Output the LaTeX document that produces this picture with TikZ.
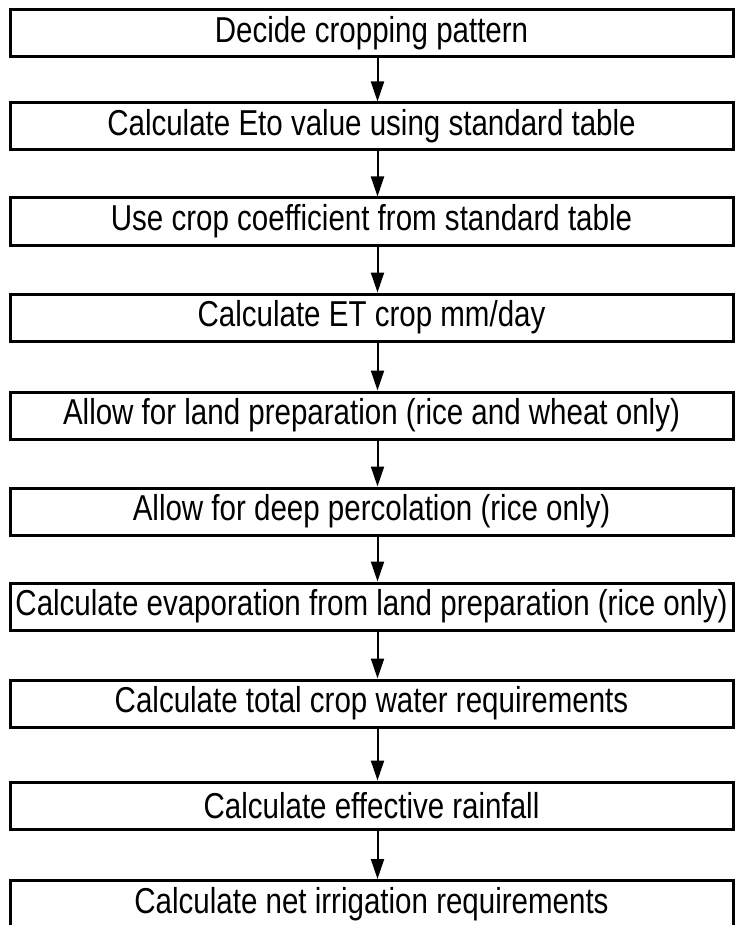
\documentclass[tikz,border=0pt]{standalone}
\usepackage{fontspec}
\setmainfont{Liberation Sans}[FakeStretch=0.82]
\usetikzlibrary{arrows.meta}

\begin{document}
\begin{tikzpicture}
            [x=0.5pt,y=-0.5pt,
             stepbox/.style={draw,line width=1.5pt,minimum width=361.5pt,minimum height=23.5pt,
                             inner sep=0pt,font=\fontsize{18}{20}\selectfont},
             flow/.style={line width=1pt,-{Triangle[length=10pt,width=6.5pt]}}]
            \useasboundingbox (0,0) rectangle (734,925);
            % steps
            \node[stepbox] (S1)  at (371.5, 33.5) {Decide cropping pattern};
            \node[stepbox] (S2)  at (371.5,126.5) {Calculate Eto value using standard table};
            \node[stepbox] (S3)  at (371.5,221.5) {Use crop coefficient from standard table};
            \node[stepbox] (S4)  at (371.5,317.5) {Calculate ET crop mm/day};
            \node[stepbox] (S5)  at (371.5,415.5) {Allow for land preparation (rice and wheat only)};
            \node[stepbox] (S6)  at (371.5,511.5) {Allow for deep percolation (rice only)};
            \node[stepbox] (S7)  at (371.5,606.5) {Calculate evaporation from land preparation (rice only)};
            \node[stepbox] (S8)  at (371.5,703.5) {Calculate total crop water requirements};
            \node[stepbox] (S9)  at (371.5,805.5) {Calculate effective rainfall};
            \node[stepbox] (S10) at (371.5,904)   {Calculate net irrigation requirements};

            % arrows
            \foreach \a/\b in {S1/S2,S2/S3,S3/S4,S4/S5,S5/S6,S6/S7,S7/S8,S8/S9,S9/S10}
                \draw[flow] ([xshift=3pt]\a.south) -- ([xshift=3pt]\b.north);
        \end{tikzpicture}
\end{document}
